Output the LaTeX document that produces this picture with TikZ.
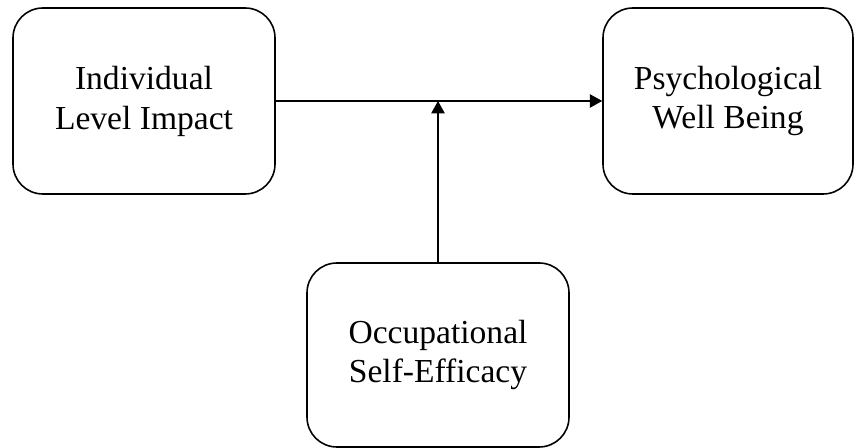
\documentclass[tikz,border=0pt]{standalone}
\usepackage{fontspec}
\setmainfont{Liberation Serif}
\usetikzlibrary{arrows.meta}
\begin{document}
\begin{tikzpicture}[x=0.02cm,y=-0.02cm]

\tikzset{mybox/.style={draw,rounded corners=17pt,line width=0.9pt,align=center,inner sep=0pt,font=\fontsize{19.1}{22.7}\selectfont},}
\tikzset{myarrow/.style={-{Triangle[length=7pt,width=7.6pt]},line width=0.6pt},}

\useasboundingbox (0,0) rectangle (855,448);

%BOXES
\draw (144,101) node [mybox,minimum width=262*0.02cm,minimum height=186*0.02cm] (impact) {Individual\\Level Impact};
\draw (728,101) node [mybox,minimum width=250*0.02cm,minimum height=186*0.02cm] (wellbeing) {Psychological\\Well Being};
\draw (438,355) node [mybox,minimum width=262*0.02cm,minimum height=184*0.02cm] (efficacy) {Occupational\\Self-Efficacy};

%ARROWS
\coordinate (meet) at (efficacy.north |- impact.east);
\draw[myarrow] (impact.east) -- (wellbeing.west);
\draw[myarrow] (efficacy.north) -- (meet);

\end{tikzpicture}
\end{document}
